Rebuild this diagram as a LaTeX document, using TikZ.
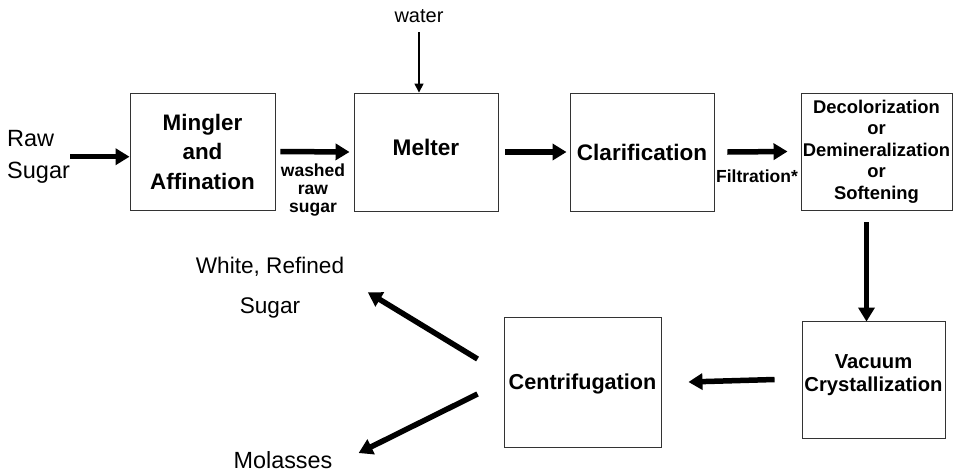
\documentclass[tikz,border=0pt]{standalone}
\usepackage{fontspec}
\setmainfont{Liberation Sans}
\usetikzlibrary{arrows.meta}
\newcommand{\fs}[2]{\fontsize{#1}{#2}\selectfont}
\begin{document}
\begin{tikzpicture}[x=1pt,y=-1pt,
  stage/.style={draw=black!80,line width=0.9pt,inner sep=0pt,align=center},
  flow/.style={line width=5.5pt,-{Triangle[length=14pt,width=16pt]}},
  feed/.style={line width=1.5pt,-{Triangle[length=9pt,width=9pt]}},
  lbl/.style={inner sep=0pt,align=center}]
\path[use as bounding box] (0,0) rectangle (954,472);

% process stages
\node[stage,minimum width=145pt,minimum height=117pt,font=\bfseries\fs{22.4}{29.5}]
  (mingler) at (202.5,151.5) {Mingler\\and\\Affination};
\node[stage,minimum width=144pt,minimum height=118pt,font=\bfseries\fs{22.6}{26}]
  (melter) at (426,152) {\raisebox{5pt}[\height][\depth]{Melter}};
\node[stage,minimum width=144pt,minimum height=118pt,font=\bfseries\fs{22.5}{26}]
  (clar) at (642,152) {Clarification};
\node[stage,minimum width=151pt,minimum height=117pt,font=\bfseries\fs{18.4}{21.5}]
  (decol) at (876.5,151.5) {Decolorization\\or\\Demineralization\\or\\Softening};
\node[stage,minimum width=143pt,minimum height=117pt,font=\bfseries\fs{20.2}{23}]
  (vac) at (873.5,379.5) {\raisebox{4pt}[\height][\depth]{\begin{tabular}{@{}c@{}}Vacuum\\Crystallization\end{tabular}}};
\node[stage,minimum width=157pt,minimum height=130pt,font=\bfseries\fs{21.6}{25}]
  (cent) at (582.5,382) {\raisebox{-1.5pt}[\height][\depth]{Centrifugation}};

% inputs, outputs and stream labels
\node[lbl,align=left,anchor=north west,font=\fs{23.5}{32}] (raw) at (7,130) {Raw\\Sugar};
\node[lbl,anchor=base,font=\fs{20}{24}] (water) at (419,22) {water};
\node[lbl,anchor=north,font=\bfseries\fs{17.5}{18}] (washed) at (313,164) {washed\\raw\\sugar};
\node[lbl,anchor=base,font=\bfseries\fs{17.5}{21}] (filt) at (757,182) {Filtration*};
\node[lbl,anchor=north,font=\fs{22.6}{40}] (white) at (270,257) {White, Refined\\Sugar};
\node[lbl,anchor=base,font=\fs{23.4}{26}] (molasses) at (283,468) {Molasses};

% flow arrows
\draw[flow] ([xshift=0pt]raw.east) -- (raw.east -| mingler.west);
\draw[flow] ([xshift=5pt]mingler.east) -- ([xshift=-4pt]melter.west);
\draw[feed,shorten <=10pt] (water.south) -- (water.south |- melter.north);
\draw[flow] ([xshift=7pt]melter.east) -- ([xshift=-3pt]clar.west);
\draw[flow] ([xshift=13pt]clar.east) -- ([xshift=-13pt]decol.west);
\draw[flow,shorten >=11pt] ([xshift=-10pt,yshift=-12pt]decol.south)
  -- ([xshift=-10pt,yshift=-12pt]decol.south |- vac.north);
\draw[flow] ([xshift=-27pt]vac.west) -- ([xshift=27pt]cent.east);
\draw[flow] ([shift={(-26pt,23pt)}]cent.west) -- ([shift={(23.5pt,-4.5pt)}]white.east);
\draw[flow] ([shift={(-26pt,-12pt)}]cent.west) -- ([shift={(26pt,6.6pt)}]molasses.east);
\end{tikzpicture}
\end{document}
